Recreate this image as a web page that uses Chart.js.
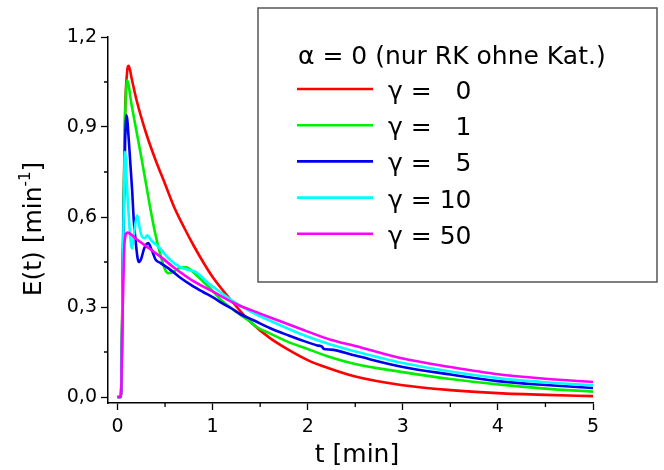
<!DOCTYPE html>
<html>
<head>
<meta charset="utf-8">
<script src="https://cdn.jsdelivr.net/npm/chart.js@4.4.1/dist/chart.umd.min.js"></script>
<style>
  html, body { margin: 0; padding: 0; background: #fff; }
  #wrap { width: 664px; height: 470px; }
</style>
</head>
<body>
<div id="wrap"><canvas id="rtdChart" width="664" height="470"></canvas></div>
<script>
// E(t) curves for alpha = 0, one line per gamma
const xTicks = [0, 1, 2, 3, 4, 5];
const yTicks = [0, 0.3, 0.6, 0.9, 1.2];
const xMinor = [0.5, 1.5, 2.5, 3.5, 4.5];
const yMinor = [0.15, 0.45, 0.75, 1.05];

const legendTitle = 'α = 0 (nur RK ohne Kat.)';
const gammaLabels = ['γ = \u20070', 'γ = \u20071', 'γ = \u20075', 'γ = 10', 'γ = 50'];
const lineColors = ['#ff0000', '#00ee00', '#0000ee', '#00ffff', '#ff00ff'];

// gamma = 0
const tG0 = [0, 0.035, 0.06, 0.08, 0.1, 0.118, 0.15, 0.2, 0.3, 0.4, 0.5, 0.6, 0.7, 0.8, 0.9, 1.0, 1.2, 1.4, 1.6, 1.8, 2.0, 2.2, 2.5, 3.0, 3.5, 4.0, 4.5, 5.0];
const eG0 = [0, 0, 0.55, 0.95, 1.08, 1.104, 1.06, 0.99, 0.88, 0.79, 0.71, 0.63, 0.565, 0.505, 0.45, 0.40, 0.32, 0.25, 0.197, 0.157, 0.123, 0.098, 0.068, 0.039, 0.023, 0.013, 0.007, 0.003];

// gamma = 1
const tG1 = [0, 0.035, 0.06, 0.08, 0.1, 0.15, 0.2, 0.25, 0.3, 0.35, 0.4, 0.45, 0.5, 0.53, 0.58, 0.65, 0.72, 0.8, 0.9, 1.0, 1.1, 1.2, 1.3, 1.4, 1.45, 1.6, 1.8, 2.0, 2.2, 2.5, 3.0, 3.5, 4.0, 4.5, 5.0];
const eG1 = [0, 0, 0.55, 0.93, 1.056, 0.97, 0.885, 0.80, 0.71, 0.62, 0.54, 0.475, 0.425, 0.413, 0.416, 0.43, 0.432, 0.415, 0.385, 0.354, 0.32, 0.295, 0.272, 0.25, 0.236, 0.212, 0.183, 0.16, 0.137, 0.11, 0.083, 0.06, 0.042, 0.028, 0.018];

// gamma = 5
const tG5 = [0, 0.035, 0.06, 0.08, 0.095, 0.12, 0.154, 0.171, 0.19, 0.21, 0.224, 0.25, 0.28, 0.322, 0.36, 0.4, 0.45, 0.54, 0.65, 0.78, 0.9, 1.0, 1.1, 1.2, 1.3, 1.43, 1.6, 1.8, 1.92, 2.1, 2.15, 2.17, 2.24, 2.5, 3.0, 3.5, 4.0, 4.5, 5.0];
const eG5 = [0, 0, 0.5, 0.85, 0.939, 0.85, 0.689, 0.589, 0.522, 0.465, 0.45, 0.462, 0.495, 0.513, 0.49, 0.458, 0.447, 0.428, 0.40, 0.372, 0.35, 0.333, 0.313, 0.295, 0.275, 0.256, 0.23, 0.205, 0.191, 0.172, 0.168, 0.16, 0.158, 0.138, 0.10, 0.075, 0.053, 0.04, 0.03];

// gamma = 10
const tG10 = [0, 0.035, 0.06, 0.078, 0.1, 0.13, 0.152, 0.18, 0.207, 0.235, 0.26, 0.29, 0.312, 0.36, 0.434, 0.54, 0.66, 0.75, 0.82, 0.96, 1.08, 1.2, 1.4, 1.6, 1.92, 2.24, 2.5, 3.0, 3.5, 4.0, 4.5, 5.0];
const eG10 = [0, 0, 0.5, 0.817, 0.7, 0.55, 0.495, 0.56, 0.606, 0.56, 0.533, 0.53, 0.539, 0.52, 0.50, 0.461, 0.433, 0.423, 0.417, 0.378, 0.35, 0.322, 0.285, 0.255, 0.211, 0.175, 0.152, 0.113, 0.085, 0.063, 0.049, 0.039];

// gamma = 50
const tG50 = [0, 0.035, 0.055, 0.075, 0.105, 0.2, 0.3, 0.434, 0.6, 0.784, 1.0, 1.24, 1.5, 1.64, 2.0, 2.24, 2.5, 3.0, 3.5, 4.0, 4.5, 5.0];
const eG50 = [0, 0, 0.3, 0.52, 0.548, 0.526, 0.503, 0.472, 0.43, 0.389, 0.352, 0.311, 0.278, 0.261, 0.218, 0.191, 0.17, 0.128, 0.10, 0.076, 0.061, 0.05];

const seriesT = [tG0, tG1, tG5, tG10, tG50];
const seriesE = [eG0, eG1, eG5, eG10, eG50];

const FONT = "'DejaVu Sans', sans-serif";

// later gamma values are drawn on top of earlier ones
const datasets = seriesT.map((ts, k) => ({
    label: gammaLabels[k],
    data: ts.map((t, i) => ({ x: t, y: seriesE[k][i] })),
    borderColor: lineColors[k],
    borderWidth: 2.6,
    pointRadius: 0,
    fill: false,
    order: seriesT.length - 1 - k,
    cubicInterpolationMode: 'monotone'
}));

// minor tick marks on both axes
const minorTicks = {
    id: 'minorTicks',
    afterDraw(chart) {
        const { ctx, scales: { x, y } } = chart;
        ctx.save();
        ctx.strokeStyle = '#000';
        ctx.lineWidth = 1.3;
        ctx.beginPath();
        xMinor.forEach(v => {
            const px = x.getPixelForValue(v);
            ctx.moveTo(px, x.top);
            ctx.lineTo(px, x.top + 4);
        });
        yMinor.forEach(v => {
            const py = y.getPixelForValue(v);
            ctx.moveTo(y.right, py);
            ctx.lineTo(y.right - 4, py);
        });
        ctx.stroke();
        ctx.restore();
    }
};

// axis titles, y title with superscript exponent
const axisTitles = {
    id: 'axisTitles',
    afterDraw(chart) {
        const ctx = chart.ctx;
        ctx.save();
        ctx.fillStyle = '#000';
        ctx.font = '25px ' + FONT;
        ctx.textAlign = 'center';
        ctx.textBaseline = 'alphabetic';
        ctx.fillText('t [min]', 357, 462);

        ctx.translate(41, 229);
        ctx.rotate(-Math.PI / 2);
        const main = 'E(t) [min';
        ctx.font = '25px ' + FONT;
        const wMain = ctx.measureText(main).width;
        ctx.font = '15px ' + FONT;
        const wSup = ctx.measureText('-1').width;
        ctx.font = '25px ' + FONT;
        const wEnd = ctx.measureText(']').width;
        let x0 = -(wMain + wSup + wEnd) / 2;
        ctx.textAlign = 'left';
        ctx.fillText(main, x0, 0);
        ctx.font = '15px ' + FONT;
        ctx.fillText('-1', x0 + wMain, -11);
        ctx.font = '25px ' + FONT;
        ctx.fillText(']', x0 + wMain + wSup, 0);
        ctx.restore();
    }
};

// framed legend box in the upper right
const boxLegend = {
    id: 'boxLegend',
    afterDraw(chart) {
        const ctx = chart.ctx;
        ctx.save();
        ctx.fillStyle = '#fff';
        ctx.fillRect(258, 8, 399, 274);
        ctx.strokeStyle = '#555';
        ctx.lineWidth = 1.5;
        ctx.strokeRect(258, 8, 399, 274);

        ctx.fillStyle = '#000';
        ctx.font = '25px ' + FONT;
        ctx.textBaseline = 'alphabetic';
        ctx.fillText(legendTitle, 298, 64);

        chart.data.datasets.forEach((ds, i) => {
            const ly = 89 + i * 36.2;
            ctx.strokeStyle = ds.borderColor;
            ctx.lineWidth = 2.6;
            ctx.beginPath();
            ctx.moveTo(297, ly);
            ctx.lineTo(373, ly);
            ctx.stroke();
            ctx.fillText(ds.label, 388, ly + 10);
        });
        ctx.restore();
    }
};

new Chart(document.getElementById('rtdChart'), {
    type: 'line',
    data: { datasets },
    options: {
        responsive: false,
        animation: false,
        layout: { padding: { top: 37, right: 71, left: 0, bottom: 0 } },
        plugins: { legend: { display: false }, tooltip: { enabled: false } },
        scales: {
            x: {
                type: 'linear',
                min: -0.1,
                max: 5,
                afterBuildTicks: s => { s.ticks = xTicks.map(v => ({ value: v })); },
                afterFit: s => { s.height = 67; },
                ticks: { autoSkip: false, maxRotation: 0, padding: 6, color: '#000', font: { family: FONT, size: 19 }, callback: v => String(v) },
                grid: { drawOnChartArea: false, tickLength: 7, tickColor: '#000', tickWidth: 1.3 },
                border: { color: '#000', width: 1.5 }
            },
            y: {
                min: -0.02,
                max: 1.2,
                afterBuildTicks: s => { s.ticks = yTicks.map(v => ({ value: v })); },
                afterFit: s => { s.width = 108; },
                ticks: { autoSkip: false, padding: 4, color: '#000', font: { family: FONT, size: 19 }, callback: v => v.toFixed(1).replace('.', ',') },
                grid: { drawOnChartArea: false, tickLength: 7, tickColor: '#000', tickWidth: 1.3 },
                border: { color: '#000', width: 1.5 }
            }
        }
    },
    plugins: [minorTicks, axisTitles, boxLegend]
});
</script>
</body>
</html>
